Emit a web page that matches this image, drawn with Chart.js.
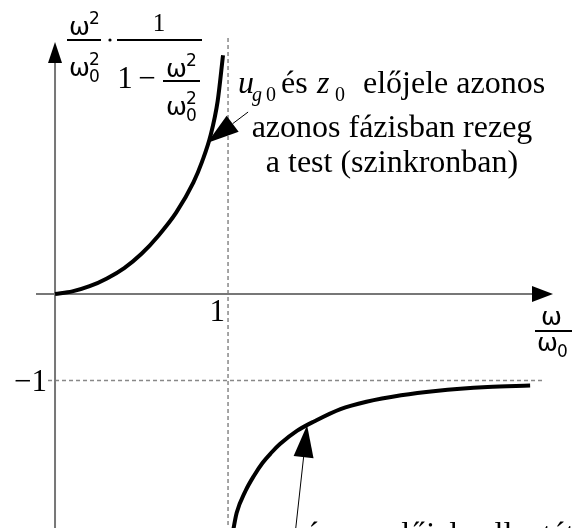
<!DOCTYPE html>
<html>
<head>
<meta charset="utf-8">
<script src="https://cdn.jsdelivr.net/npm/chart.js@4"></script>
<style>
  html, body { margin: 0; padding: 0; background: #fff; }
  #wrap { width: 572px; height: 528px; position: relative; }
</style>
</head>
<body>
<div id="wrap"><canvas id="resonanceChart"></canvas></div>
<script>
// branch below resonance (omega/omega0 < 1)
const belowX = [0, 0.1, 0.2, 0.3, 0.4, 0.5, 0.6, 0.7, 0.8, 0.85, 0.9, 0.94, 0.971];
const belowY = [0, 0.03, 0.09, 0.18, 0.30, 0.465, 0.68, 0.94, 1.29, 1.53, 1.84, 2.23, 2.76];
// branch above resonance (omega/omega0 > 1)
const aboveX = [1.02, 1.05, 1.1, 1.15, 1.2, 1.25, 1.3, 1.4, 1.5, 1.65, 1.8, 2.0, 2.2, 2.5, 2.746];
const aboveY = [-2.84, -2.53, -2.28, -2.10, -1.95, -1.835, -1.735, -1.58, -1.47, -1.33, -1.245, -1.17, -1.12, -1.075, -1.058];

const xTickValues = [1];
const yTickValues = [-1];
const xTickLabels = ['1'];
const yTickLabels = ['\u22121'];

const noteInPhase = ['azonos fázisban rezeg', 'a test (szinkronban)'];

const SERIF = '"Liberation Serif", "Times New Roman", serif';
const SANS = '"DejaVu Sans", sans-serif';

function toPoints(xs, ys) {
  return xs.map((v, i) => ({ x: v, y: ys[i] }));
}

function line(ctx, x1, y1, x2, y2) {
  ctx.beginPath();
  ctx.moveTo(x1, y1);
  ctx.lineTo(x2, y2);
  ctx.stroke();
}

function arrow(ctx, tail, tip, len, half) {
  const dx = tip.x - tail.x, dy = tip.y - tail.y;
  const d = Math.hypot(dx, dy);
  const ux = dx / d, uy = dy / d;
  const bx = tip.x - ux * len, by = tip.y - uy * len;
  ctx.lineWidth = 1;
  line(ctx, tail.x, tail.y, bx, by);
  ctx.beginPath();
  ctx.moveTo(tip.x, tip.y);
  ctx.lineTo(bx - uy * half, by + ux * half);
  ctx.lineTo(bx + uy * half, by - ux * half);
  ctx.closePath();
  ctx.fill();
}

function txt(ctx, s, x, y, font, align) {
  ctx.font = font;
  ctx.textAlign = align || 'left';
  ctx.fillText(s, x, y);
}

// omega with optional superscript / subscript
function omega(ctx, x, base, sup, sub) {
  txt(ctx, '\u03c9', x, base, '25px ' + SANS);
  if (sup) txt(ctx, sup, x + 20, base - 11, '17px ' + SANS);
  if (sub) txt(ctx, sub, x + 20, base + 6, '17px ' + SANS);
}

// u_g0 és z_0 előjele ...
function signNote(ctx, x, base, tail) {
  const ital = 'italic 32px ' + SERIF;
  const up = '32px ' + SERIF;
  txt(ctx, 'u', x, base, ital);
  txt(ctx, 'g', x + 14, base + 8, 'italic 20px ' + SERIF);
  txt(ctx, '0', x + 28, base + 8, '20px ' + SERIF);
  txt(ctx, 'és', x + 43, base, up);
  txt(ctx, 'z', x + 79, base, ital);
  txt(ctx, '0', x + 97, base + 8, '20px ' + SERIF);
  txt(ctx, 'előjele ' + tail, x + 125, base, up);
}

const figurePlugin = {
  id: 'figure',
  beforeDatasetsDraw(chart) {
    const { ctx, scales: { x, y } } = chart;
    const x0 = x.getPixelForValue(0);
    const y0 = y.getPixelForValue(0);
    ctx.save();

    // dashed guides at omega = omega0 and at -1
    ctx.strokeStyle = '#888';
    ctx.lineWidth = 1.5;
    ctx.setLineDash([4, 3]);
    xTickValues.forEach(v => {
      const px = x.getPixelForValue(v);
      line(ctx, px, 38, px, chart.height);
    });
    yTickValues.forEach(v => {
      const py = y.getPixelForValue(v);
      line(ctx, x0 - 7, py, 545, py);
    });

    // axes
    ctx.setLineDash([]);
    ctx.strokeStyle = '#777';
    ctx.lineWidth = 2;
    line(ctx, 36, y0, 534, y0);
    line(ctx, x0, chart.height, x0, 60);

    ctx.fillStyle = '#000';
    ctx.beginPath();
    ctx.moveTo(553, y0);
    ctx.lineTo(532, y0 - 8);
    ctx.lineTo(532, y0 + 8);
    ctx.closePath();
    ctx.fill();
    ctx.beginPath();
    ctx.moveTo(x0, 42);
    ctx.lineTo(x0 - 7, 63);
    ctx.lineTo(x0 + 7, 63);
    ctx.closePath();
    ctx.fill();
    ctx.restore();
  },
  afterDatasetsDraw(chart) {
    const { ctx, scales: { x, y } } = chart;
    const P = (a, b) => ({ x: x.getPixelForValue(a), y: y.getPixelForValue(b) });
    ctx.save();
    ctx.fillStyle = '#000';
    ctx.strokeStyle = '#000';
    ctx.textBaseline = 'alphabetic';

    // tick labels
    xTickValues.forEach((v, i) => {
      txt(ctx, xTickLabels[i], x.getPixelForValue(v) - 3, y.getPixelForValue(0) + 27, '31px ' + SERIF, 'right');
    });
    yTickValues.forEach((v, i) => {
      txt(ctx, yTickLabels[i], x.getPixelForValue(0) - 8, y.getPixelForValue(v) + 10, '31px ' + SERIF, 'right');
    });

    // y axis title: w^2/w0^2 * 1/(1 - w^2/w0^2)
    ctx.lineWidth = 2;
    omega(ctx, 69, 35, '2');
    line(ctx, 67, 40, 101, 40);
    omega(ctx, 69, 76, '2', '0');
    ctx.beginPath();
    ctx.arc(110, 40, 1.6, 0, Math.PI * 2);
    ctx.fill();
    txt(ctx, '1', 159, 31, '25px ' + SERIF, 'center');
    line(ctx, 117, 40, 202, 40);
    txt(ctx, '1', 125, 88, '31px ' + SERIF, 'center');
    txt(ctx, '\u2212', 147, 88, '31px ' + SERIF, 'center');
    omega(ctx, 166, 77, '2');
    line(ctx, 163, 81, 200, 81);
    omega(ctx, 166, 115, '2', '0');

    // x axis title: w/w0
    omega(ctx, 541, 325);
    line(ctx, 535, 331, 572, 331);
    omega(ctx, 537, 351, null, '0');

    // in-phase note
    signNote(ctx, 238, 93, 'azonos');
    txt(ctx, noteInPhase[0], 392, 137, '32px ' + SERIF, 'center');
    txt(ctx, noteInPhase[1], 392, 172, '32px ' + SERIF, 'center');

    // anti-phase note, runs off the bottom edge
    signNote(ctx, 262, 544, 'ellentétes');

    // pointers onto the curve
    arrow(ctx, P(1.116, 2.104), P(0.879, 1.746), 32, 10);
    arrow(ctx, P(1.387, -2.786), P(1.457, -1.517), 32, 10);
    ctx.restore();
  }
};

const curveStyle = {
  borderColor: '#000',
  borderWidth: 4,
  pointRadius: 0,
  fill: false,
  cubicInterpolationMode: 'monotone'
};

new Chart(document.getElementById('resonanceChart').getContext('2d'), {
  type: 'line',
  data: {
    datasets: [
      Object.assign({ label: 'below', data: toPoints(belowX, belowY) }, curveStyle),
      Object.assign({ label: 'above', data: toPoints(aboveX, aboveY) }, curveStyle)
    ]
  },
  options: {
    responsive: true,
    maintainAspectRatio: false,
    animation: false,
    layout: { padding: 0 },
    plugins: {
      legend: { display: false },
      tooltip: { enabled: false }
    },
    scales: {
      x: { type: 'linear', min: -0.318, max: 2.988, display: false },
      y: { type: 'linear', min: -2.705, max: 3.399, display: false }
    }
  },
  plugins: [figurePlugin]
});
</script>
</body>
</html>
